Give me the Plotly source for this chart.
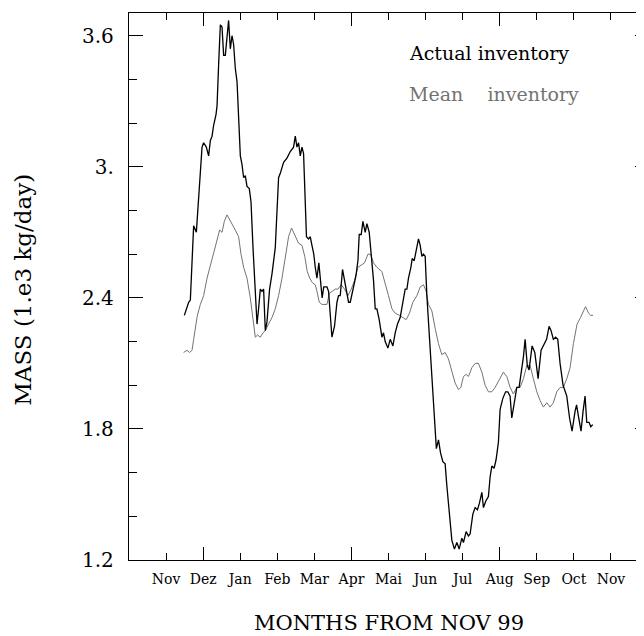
import plotly.graph_objects as go

# ---- data (x in months after 1 Nov 1999, y in 1e3 kg/day) ----
months = ["Nov", "Dez", "Jan", "Feb", "Mar", "Apr", "Mai", "Jun", "Jul", "Aug", "Sep", "Oct", "Nov"]
month_pos = list(range(13))

actual_x = [0.493, 0.609, 0.655, 0.701, 0.744, 0.817, 0.879, 0.970, 1.013, 1.086, 1.148, 1.194, 1.240,
            1.283, 1.348, 1.375, 1.418, 1.464, 1.509, 1.553, 1.598, 1.644, 1.687, 1.733, 1.779, 1.822,
            1.868, 1.914, 1.957, 2.003, 2.049, 2.092, 2.137, 2.183, 2.245, 2.291, 2.345, 2.407, 2.453,
            2.496, 2.542, 2.588, 2.631, 2.677, 2.722, 2.792, 2.857, 2.946, 3.035, 3.081, 3.170, 3.261,
            3.350, 3.439, 3.485, 3.531, 3.574, 3.620, 3.666, 3.709, 3.741, 3.787, 3.844, 3.889, 3.935,
            3.984, 4.024, 4.070, 4.121, 4.167, 4.210, 4.253, 4.294, 4.340, 4.383, 4.429, 4.474, 4.544,
            4.609, 4.652, 4.698, 4.760, 4.814, 4.879, 4.922, 4.968, 5.057, 5.121, 5.175, 5.210, 5.264,
            5.310, 5.372, 5.418, 5.480, 5.534, 5.596, 5.642, 5.687, 5.749, 5.822, 5.865, 5.911, 5.984,
            6.046, 6.119, 6.181, 6.243, 6.315, 6.388, 6.450, 6.496, 6.539, 6.604, 6.639, 6.693, 6.747,
            6.809, 6.855, 6.900, 6.943, 6.989, 7.035, 7.105, 7.170, 7.232, 7.291, 7.348, 7.404, 7.466,
            7.528, 7.574, 7.644, 7.709, 7.779, 7.844, 7.906, 7.978, 8.022, 8.094, 8.156, 8.202, 8.275,
            8.337, 8.399, 8.453, 8.518, 8.561, 8.625, 8.695, 8.741, 8.787, 8.849, 8.903, 8.965, 9.011,
            9.084, 9.159, 9.218, 9.280, 9.326, 9.388, 9.461, 9.523, 9.585, 9.639, 9.685, 9.744, 9.792,
            9.873, 9.946, 10.035, 10.116, 10.197, 10.264, 10.332, 10.385, 10.447, 10.507, 10.566, 10.628,
            10.709, 10.809, 10.884, 10.951, 11.032, 11.073, 11.121, 11.194, 11.248, 11.302, 11.348,
            11.410, 11.456, 11.509]
actual_y = [2.32, 2.38, 2.39, 2.54, 2.73, 2.70, 2.84, 3.09, 3.11, 3.09, 3.05, 3.12, 3.14,
            3.19, 3.24, 3.28, 3.47, 3.65, 3.64, 3.51, 3.51, 3.58, 3.67, 3.54, 3.60, 3.56,
            3.45, 3.39, 3.24, 3.05, 3.01, 2.95, 2.96, 2.91, 2.90, 2.84, 2.63, 2.40, 2.28,
            2.35, 2.44, 2.43, 2.44, 2.25, 2.29, 2.44, 2.51, 2.63, 2.95, 2.97, 3.02, 3.04,
            3.07, 3.09, 3.14, 3.09, 3.11, 3.05, 3.09, 3.06, 2.92, 2.68, 2.67, 2.68, 2.64,
            2.60, 2.54, 2.49, 2.56, 2.46, 2.40, 2.45, 2.45, 2.45, 2.43, 2.31, 2.22, 2.27,
            2.38, 2.41, 2.41, 2.53, 2.48, 2.41, 2.38, 2.38, 2.46, 2.50, 2.57, 2.69, 2.69,
            2.75, 2.70, 2.74, 2.70, 2.60, 2.48, 2.35, 2.35, 2.30, 2.22, 2.24, 2.20, 2.17,
            2.21, 2.18, 2.24, 2.28, 2.31, 2.38, 2.44, 2.44, 2.49, 2.54, 2.58, 2.57, 2.61,
            2.67, 2.64, 2.59, 2.60, 2.59, 2.41, 2.22, 2.02, 1.90, 1.71, 1.75, 1.69, 1.65,
            1.64, 1.54, 1.41, 1.29, 1.25, 1.28, 1.25, 1.30, 1.28, 1.33, 1.31, 1.32, 1.41,
            1.44, 1.43, 1.46, 1.51, 1.44, 1.47, 1.49, 1.58, 1.63, 1.62, 1.66, 1.74, 1.89,
            1.94, 1.97, 1.97, 1.95, 1.85, 1.92, 1.99, 1.99, 2.06, 2.13, 2.21, 2.09, 2.07,
            2.18, 2.15, 2.03, 2.16, 2.19, 2.21, 2.27, 2.25, 2.21, 2.22, 2.21, 2.10,
            2.00, 1.95, 1.85, 1.79, 1.88, 1.91, 1.86, 1.79, 1.88, 1.95, 1.83,
            1.83, 1.81, 1.82]

mean_x = [0.474, 0.566, 0.636, 0.701, 0.744, 0.790, 0.844, 0.925, 1.013, 1.105, 1.194, 1.283, 1.375,
          1.445, 1.509, 1.571, 1.644, 1.714, 1.779, 1.868, 1.957, 2.022, 2.092, 2.183, 2.272, 2.345,
          2.407, 2.469, 2.542, 2.615, 2.677, 2.765, 2.857, 2.946, 3.035, 3.127, 3.216, 3.305, 3.385,
          3.466, 3.531, 3.574, 3.666, 3.741, 3.809, 3.876, 3.943, 4.024, 4.070, 4.132, 4.205, 4.275,
          4.340, 4.402, 4.474, 4.563, 4.636, 4.725, 4.814, 4.906, 4.995, 5.084, 5.175, 5.264, 5.353,
          5.445, 5.515, 5.596, 5.687, 5.822, 5.911, 6.000, 6.092, 6.181, 6.296, 6.388, 6.477, 6.566,
          6.658, 6.765, 6.855, 6.943, 7.016, 7.078, 7.170, 7.259, 7.348, 7.439, 7.528, 7.617, 7.709,
          7.798, 7.887, 7.951, 8.022, 8.094, 8.156, 8.248, 8.337, 8.426, 8.518, 8.606, 8.695, 8.787,
          8.876, 8.965, 9.051, 9.100, 9.191, 9.280, 9.369, 9.461, 9.550, 9.639, 9.730, 9.820, 9.908,
          10.000, 10.089, 10.178, 10.270, 10.358, 10.447, 10.539, 10.628, 10.717, 10.809, 10.898,
          10.987, 11.086, 11.181, 11.275, 11.315, 11.396, 11.456, 11.518]
mean_y = [2.15, 2.16, 2.15, 2.16, 2.21, 2.27, 2.32, 2.37, 2.41, 2.49, 2.55, 2.60, 2.66,
          2.71, 2.70, 2.75, 2.78, 2.76, 2.74, 2.71, 2.68, 2.60, 2.54, 2.49, 2.40, 2.29,
          2.22, 2.23, 2.22, 2.24, 2.25, 2.28, 2.31, 2.35, 2.41, 2.49, 2.59, 2.68, 2.72,
          2.69, 2.67, 2.65, 2.64, 2.59, 2.52, 2.49, 2.47, 2.46, 2.43, 2.38, 2.37, 2.37,
          2.37, 2.42, 2.43, 2.44, 2.44, 2.46, 2.44, 2.41, 2.44, 2.48, 2.54, 2.55, 2.56,
          2.60, 2.60, 2.56, 2.54, 2.52, 2.47, 2.41, 2.35, 2.33, 2.32, 2.31, 2.30, 2.33,
          2.38, 2.41, 2.45, 2.46, 2.43, 2.37, 2.34, 2.26, 2.19, 2.14, 2.15, 2.12, 2.06,
          2.01, 1.98, 1.99, 2.04, 2.05, 2.04, 2.08, 2.10, 2.10, 2.06, 2.00, 1.97, 1.97,
          1.99, 2.02, 2.05, 2.06, 2.04, 1.99, 1.96, 1.99, 1.99, 2.03, 2.09, 2.09, 2.03,
          1.97, 1.93, 1.90, 1.92, 1.90, 1.92, 1.97, 1.99, 1.99, 2.03, 2.08,
          2.19, 2.28, 2.31, 2.35, 2.36, 2.33, 2.32, 2.32]

y_major = [1.2, 1.8, 2.4, 3.0, 3.6]
y_major_text = ["1.2", "1.8", "2.4", "3.", "3.6"]
y_minor = [1.4, 1.6, 2.0, 2.2, 2.6, 2.8, 3.2, 3.4]
x_major = [1, 5, 9]
x_minor = [0, 2, 3, 4, 6, 7, 8, 10, 11, 12]

XRANGE = [-1, 12.892]
YRANGE = [1.2, 3.704]
GRAY = "#737373"
SERIF = "DejaVu Serif"

fig = go.Figure()
fig.add_trace(go.Scatter(x=mean_x, y=mean_y, mode="lines", line=dict(color=GRAY, width=1),
                         name="Mean inventory", showlegend=False))
fig.add_trace(go.Scatter(x=actual_x, y=actual_y, mode="lines", line=dict(color="black", width=1.3),
                         name="Actual inventory", showlegend=False))
# empty trace so the overlay axes (labels / right-hand ticks) are rendered
fig.add_trace(go.Scatter(x=[None], y=[None], xaxis="x2", yaxis="y2", showlegend=False,
                         hoverinfo="skip"))

# the page body has an 8px margin, so the figure is 8px smaller than the window
fig.update_layout(
    width=636, height=628,
    margin=dict(l=121, r=0, t=5, b=76),
    paper_bgcolor="white", plot_bgcolor="white",
    font=dict(family=SERIF, color="black"),
    xaxis=dict(range=XRANGE, showgrid=False, zeroline=False,
               showline=True, linecolor="black", linewidth=1.3, mirror="ticks",
               tickmode="array", tickvals=x_major, ticks="inside", ticklen=13,
               tickwidth=1.3, tickcolor="black", showticklabels=False,
               minor=dict(tickmode="array", tickvals=x_minor, ticks="inside", ticklen=7,
                          tickwidth=1.3, tickcolor="black", showgrid=False)),
    xaxis2=dict(range=XRANGE, overlaying="x", anchor="y", side="bottom",
                showgrid=False, zeroline=False, showline=False, ticks="",
                tickmode="array", tickvals=month_pos, ticktext=months,
                tickfont=dict(family=SERIF, size=14, color="black"),
                ticklabelstandoff=9),
    yaxis=dict(range=YRANGE, showgrid=False, zeroline=False,
               showline=True, linecolor="black", linewidth=1.3, mirror=False,
               tickmode="array", tickvals=y_major, ticktext=y_major_text,
               ticks="inside", ticklen=14, tickwidth=1.3, tickcolor="black",
               tickfont=dict(family=SERIF, size=20, color="black"),
               ticklabelstandoff=10,
               minor=dict(tickmode="array", tickvals=y_minor, ticks="inside", ticklen=8,
                          tickwidth=1.3, tickcolor="black", showgrid=False)),
    yaxis2=dict(range=YRANGE, overlaying="y", anchor="x", side="right",
                showgrid=False, zeroline=False, showline=False,
                tickmode="array", tickvals=y_major, ticks="inside", ticklen=9,
                tickwidth=1.3, tickcolor="black", showticklabels=False,
                minor=dict(tickmode="array", tickvals=y_minor, ticks="inside", ticklen=4,
                           tickwidth=1.3, tickcolor="black", showgrid=False)),
    annotations=[
        dict(text="MONTHS FROM NOV 99", xref="paper", yref="paper", x=0.505, y=-0.115,
             xanchor="center", yanchor="middle", showarrow=False,
             font=dict(family=SERIF, size=21, color="black")),
        dict(text="MASS (1.e3 kg/day)", xref="paper", yref="paper", x=-0.206, y=0.494,
             xanchor="center", yanchor="middle", textangle=-90, showarrow=False,
             font=dict(family=SERIF, size=23, color="black")),
        dict(text="Actual\u00a0inventory", xref="paper", yref="paper", x=0.54, y=0.927,
             xanchor="left", yanchor="middle", showarrow=False,
             font=dict(family=SERIF, size=19, color="black")),
        dict(text="Mean\u00a0\u00a0\u00a0\u00a0inventory", xref="paper", yref="paper", x=0.54, y=0.852,
             xanchor="left", yanchor="middle", showarrow=False,
             font=dict(family=SERIF, size=19, color=GRAY)),
    ],
)

fig.write_html("out.html")
